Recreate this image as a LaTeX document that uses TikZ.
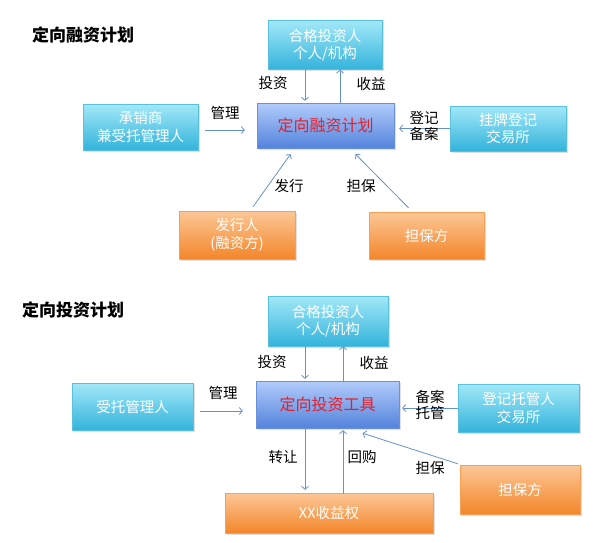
\documentclass[tikz,border=0pt]{standalone}
\usepackage{fontspec}
\newfontfamily\cjk{Noto Sans CJK SC}
\usetikzlibrary{arrows.meta,shadows}

\definecolor{cyantop}{HTML}{A2E8F8}
\definecolor{cyanbot}{HTML}{33B3DB}
\definecolor{cyanline}{HTML}{5BC0DE}
\definecolor{bluetop}{HTML}{B2CCFB}
\definecolor{bluebot}{HTML}{5483DC}
\definecolor{blueline}{HTML}{6A90D8}
\definecolor{orangetop}{HTML}{FCC796}
\definecolor{orangebot}{HTML}{F3862A}
\definecolor{orangeline}{HTML}{F5A055}
\definecolor{flowblue}{HTML}{6692CB}
\definecolor{planred}{HTML}{E2202C}

\tikzset{
  box/.style={rectangle, inner sep=0pt, align=center, text=white,
    font=\cjk\fontsize{14.5pt}{17.5pt}\selectfont,
    drop shadow={opacity=0.25, shadow xshift=1.5pt, shadow yshift=-1.5pt}},
  party/.style={box, draw=cyanline, top color=cyantop, bottom color=cyanbot},
  source/.style={box, draw=orangeline, top color=orangetop, bottom color=orangebot},
  plan/.style={box, draw=blueline, top color=bluetop, bottom color=bluebot,
    text=planred, font=\cjk\fontsize{16pt}{19pt}\selectfont},
  flow/.style={draw=flowblue, line width=0.8pt,
    -{Straight Barb[length=3pt,width=7pt]}},
  lbl/.style={align=center, inner sep=0pt, font=\cjk\fontsize{14.5pt}{16.5pt}\selectfont},
  heading/.style={inner sep=0pt, font=\cjk\bfseries\fontsize{17pt}{20pt}\selectfont}
}

\begin{document}
\begin{tikzpicture}[x=1pt,y=-1pt]
  \useasboundingbox (0,0) rectangle (610,543);

  % financing plan
  \node[heading] (title1) at (83,35) {定向融资计划};
  \node[party, minimum width=114pt, minimum height=49pt] (inv1)  at (325,45)    {合格投资人\\个人/机构};
  \node[party, minimum width=115pt, minimum height=46pt] (mgr1)  at (140.5,127) {承销商\\兼受托管理人};
  \node[plan,  minimum width=137pt, minimum height=45pt] (plan1) at (325.5,125.5) {定向融资计划};
  \node[party, minimum width=116pt, minimum height=45pt] (exch1) at (508,128.5) {挂牌登记\\交易所};
  \node[source, minimum width=116pt, minimum height=48pt] (iss1)  at (237,235)   {发行人\\(融资方)};
  \node[source, minimum width=115pt, minimum height=47pt] (guar1) at (426.5,235.5) {担保方};

  \draw[flow] ([xshift=-20pt]inv1.south) -- ([xshift=-20pt,yshift=2pt]inv1.south |- plan1.north);
  \draw[flow] ([xshift=15pt,yshift=-1pt]plan1.north -| inv1.south) -- ([xshift=15pt]inv1.south);
  \draw[flow, shorten <=7pt, shorten >=12pt] ([yshift=-3pt]mgr1.east) -- ([yshift=-3pt]mgr1.east -| plan1.west);
  \draw[flow, shorten >=5pt] (exch1.west) -- (exch1.west -| plan1.east);
  \draw[flow] ([xshift=16pt,yshift=4pt]iss1.north) -- ([xshift=-35pt,yshift=-6pt]plan1.south);
  \draw[flow] ([xshift=-18pt,yshift=4pt]guar1.north) -- ([xshift=30pt,yshift=-6pt]plan1.south);

  \node[lbl] (l11) at (273,83)  {投资};
  \node[lbl] (l12) at (371,84)  {收益};
  \node[lbl] (l13) at (225,113) {管理};
  \node[lbl] (l14) at (424,126) {登记\\备案};
  \node[lbl] (l15) at (289,186) {发行};
  \node[lbl] (l16) at (361,186) {担保};

  % investment plan
  \node[heading] (title2) at (73,310) {定向投资计划};
  \node[party, minimum width=120pt, minimum height=50pt] (inv2)  at (328,321)   {合格投资人\\个人/机构};
  \node[party, minimum width=121pt, minimum height=47pt] (mgr2)  at (132.5,406.5) {受托管理人};
  \node[plan,  minimum width=143pt, minimum height=47pt] (tool2) at (327.5,404.5) {定向投资工具};
  \node[party, minimum width=121pt, minimum height=48pt] (cust2) at (518.5,408) {登记托管人\\交易所};
  \node[source, minimum width=120pt, minimum height=49pt] (guar2) at (520,489.5) {担保方};
  \node[source, minimum width=208pt, minimum height=40pt] (right2) at (329,513) {XX收益权};

  \draw[flow] ([xshift=-23pt]inv2.south) -- ([xshift=-23pt,yshift=2pt]inv2.south |- tool2.north);
  \draw[flow] ([xshift=15pt,yshift=-1pt]tool2.north -| inv2.south) -- ([xshift=15pt]inv2.south);
  \draw[flow, shorten <=7pt, shorten >=13pt] ([yshift=-4.5pt]mgr2.east) -- ([yshift=-4.5pt]mgr2.east -| tool2.west);
  \draw[flow, shorten >=3pt] (cust2.west) -- (cust2.west -| tool2.east);
  \draw[flow] ([xshift=-22.5pt]tool2.south) -- ([xshift=-22.5pt,yshift=3pt]tool2.south |- right2.north);
  \draw[flow] ([xshift=15.5pt,yshift=-1pt]right2.north -| tool2.south) -- ([xshift=15.5pt,yshift=-2pt]tool2.south);
  \draw[flow] ([xshift=-2pt,yshift=1pt]guar2.north west) -- ([xshift=35pt,yshift=-5pt]tool2.south);

  \node[lbl] (l21) at (272,362) {投资};
  \node[lbl] (l22) at (374,363) {收益};
  \node[lbl] (l23) at (223,393) {管理};
  \node[lbl] (l24) at (430,405) {备案\\托管};
  \node[lbl] (l25) at (283,457) {转让};
  \node[lbl] (l26) at (362,457) {回购};
  \node[lbl] (l27) at (430,468) {担保};
\end{tikzpicture}
\end{document}
